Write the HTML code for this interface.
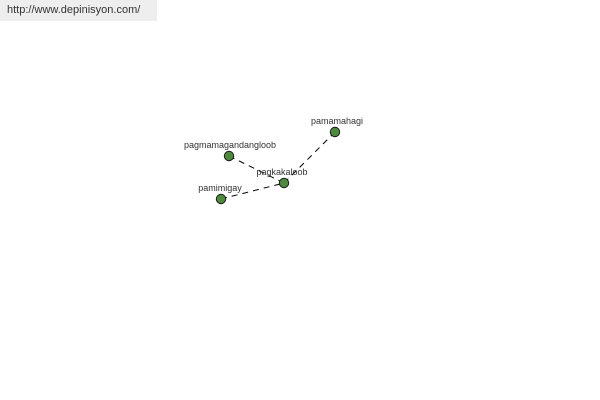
<!DOCTYPE html>
<html><head><style>
body{margin:0;width:600px;height:400px;background:#fff;position:relative;overflow:hidden;font-family:"Liberation Sans",sans-serif}
.hdr{position:absolute;left:0;top:0;width:157px;height:21px;background:#eeeeee;font-size:11px;color:#333;line-height:21px;padding-left:7px;box-sizing:border-box}
</style></head><body>
<div class="hdr">http://www.depinisyon.com/</div>
<svg width="600" height="400" style="position:absolute;left:0;top:0" font-family="Liberation Sans, sans-serif" font-size="9" fill="#333">
<g stroke="#000" stroke-width="1" stroke-dasharray="6,5">
<line x1="335" y1="132" x2="284" y2="183"/>
<line x1="229" y1="156" x2="284" y2="183"/>
<line x1="221" y1="199" x2="284" y2="183"/>
</g>
<g fill="#4e8a3e" stroke="#1a1a1a" stroke-width="1">
<circle cx="335" cy="132" r="4.7"/>
<circle cx="229" cy="156" r="4.7"/>
<circle cx="284" cy="183" r="4.7"/>
<circle cx="221" cy="199" r="4.7"/>
</g>
<text x="337" y="124" text-anchor="middle">pamamahagi</text>
<text x="230" y="148" text-anchor="middle">pagmamagandangloob</text>
<text x="282" y="175" text-anchor="middle">pagkakaloob</text>
<text x="220" y="191" text-anchor="middle">pamimigay</text>
</svg>
</body></html>
